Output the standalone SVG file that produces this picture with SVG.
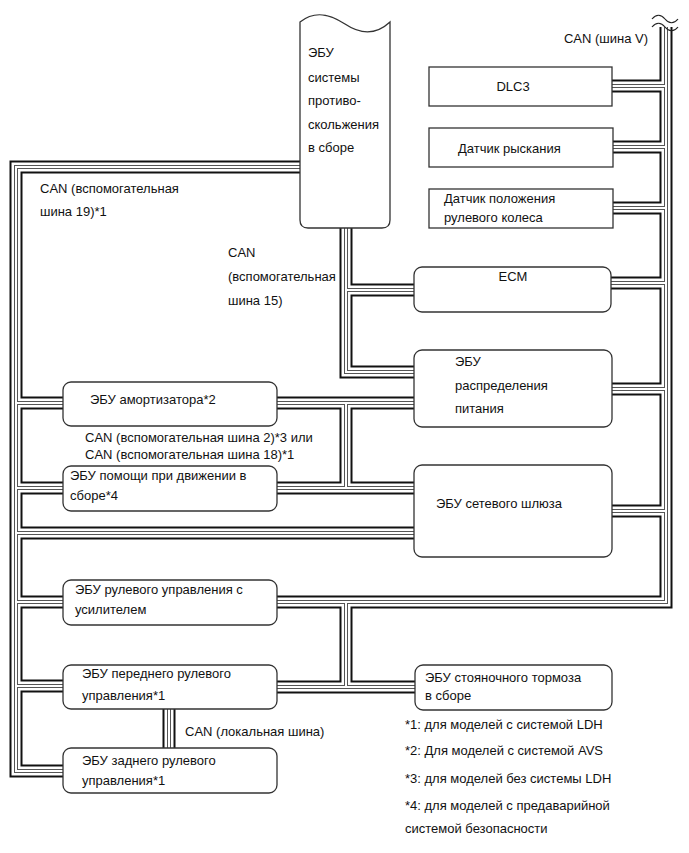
<svg xmlns="http://www.w3.org/2000/svg" width="689" height="853" viewBox="0 0 689 853">
<style>
text{font-family:"Liberation Sans",Arial,sans-serif;font-size:13px;fill:#111}
.box{fill:#fff;stroke:#333;stroke-width:1.3}
.b1{fill:none;stroke:#111;stroke-width:13;stroke-linejoin:miter}
.b2{fill:none;stroke:#fff;stroke-width:9;stroke-linejoin:miter}
.b3{fill:none;stroke:#555;stroke-width:4;stroke-linejoin:miter}
.b4{fill:none;stroke:#fff;stroke-width:2;stroke-linejoin:miter}
.brk{fill:none;stroke:#222;stroke-width:1.2}
</style>
<defs>
<path id="bus" d="M666,27 V602 H277 M666,86 H612 M666,147 H613 M666,208 H613 M666,283 H611 M666,389 H612 M666,511 H612 M346,602 V687 M277,687 H415 M300,167 H16 V771 H63 M16,403 H63 M16,488 H63 M16,533 H414 M16,602 H63 M16,686 H63 M277,403 H414 M346,403 V488 M277,488 H414 M346,228 V372 H414 M346,290 H414 M169,709 V748"/>
</defs>
<g id="connectors">
<use href="#bus" class="b1"/>
<use href="#bus" class="b2"/>
<use href="#bus" class="b3"/>
<use href="#bus" class="b4"/>
<path class="brk" d="M652,19 c4,-5 9,-5 13,0 s9,5 13,0"/>
<path class="brk" d="M652,27 c4,-5 9,-5 13,0 s9,5 13,0"/>
</g>
<g id="labels">
<text x="648" y="43" text-anchor="end">CAN (шина V)</text>
<text x="40" y="193">CAN (вспомогательная</text>
<text x="40" y="216">шина 19)*1</text>
<text x="228" y="257">CAN</text>
<text x="228" y="281">(вспомогательная</text>
<text x="228" y="305">шина 15)</text>
<text x="85" y="442">CAN (вспомогательная шина 2)*3 или</text>
<text x="85" y="459">CAN (вспомогательная шина 18)*1</text>
<text x="185" y="736">CAN (локальная шина)</text>
<text x="405" y="729">*1: для моделей с системой LDH</text>
<text x="405" y="755">*2: Для моделей с системой AVS</text>
<text x="405" y="783">*3: для моделей без системы LDH</text>
<text x="405" y="810">*4: для моделей с предаварийной</text>
<text x="405" y="833">системой безопасности</text>
</g>
<g id="abs">
<path class="box" d="M300,22 C315,10 330,14 345,24 S375,36 390,22 V220 Q390,228 382,228 H308 Q300,228 300,220 Z"/>
<text x="308" y="57">ЭБУ</text>
<text x="308" y="82">системы</text>
<text x="308" y="105">противо-</text>
<text x="308" y="129">скольжения</text>
<text x="308" y="152">в сборе</text>
</g>
<g id="dlc3">
<rect class="box" x="429" y="67" width="183" height="39"/>
<text x="513" y="91" text-anchor="middle">DLC3</text>
</g>
<g id="yaw">
<rect class="box" x="429" y="128" width="184" height="39"/>
<text x="458" y="153">Датчик рыскания</text>
</g>
<g id="steer-sensor">
<rect class="box" x="429" y="189" width="184" height="39"/>
<text x="444" y="203">Датчик положения</text>
<text x="444" y="222">рулевого колеса</text>
</g>
<g id="ecm">
<rect class="box" x="414" y="267" width="197" height="45" rx="8"/>
<text x="513" y="281" text-anchor="middle">ECM</text>
</g>
<g id="power-dist">
<rect class="box" x="414" y="350" width="198" height="77" rx="8"/>
<text x="455" y="366">ЭБУ</text>
<text x="455" y="390">распределения</text>
<text x="455" y="413">питания</text>
</g>
<g id="shock">
<rect class="box" x="63" y="382" width="214" height="44" rx="8"/>
<text x="90" y="404">ЭБУ амортизатора*2</text>
</g>
<g id="drive-support">
<rect class="box" x="63" y="466" width="214" height="45" rx="8"/>
<text x="70" y="480">ЭБУ помощи при движении в</text>
<text x="70" y="500">сборе*4</text>
</g>
<g id="gateway">
<rect class="box" x="414" y="465" width="198" height="92" rx="8"/>
<text x="436" y="508">ЭБУ сетевого шлюза</text>
</g>
<g id="power-steering">
<rect class="box" x="63" y="580" width="214" height="45" rx="8"/>
<text x="75" y="594">ЭБУ рулевого управления с</text>
<text x="75" y="614">усилителем</text>
</g>
<g id="front-steering">
<rect class="box" x="63" y="665" width="214" height="44" rx="8"/>
<text x="82" y="678">ЭБУ переднего рулевого</text>
<text x="82" y="700">управления*1</text>
</g>
<g id="rear-steering">
<rect class="box" x="63" y="748" width="214" height="45" rx="8"/>
<text x="82" y="765">ЭБУ заднего рулевого</text>
<text x="82" y="785">управления*1</text>
</g>
<g id="parking-brake">
<rect class="box" x="415" y="665" width="197" height="45" rx="8"/>
<text x="425" y="682">ЭБУ стояночного тормоза</text>
<text x="425" y="700">в сборе</text>
</g>
</svg>
